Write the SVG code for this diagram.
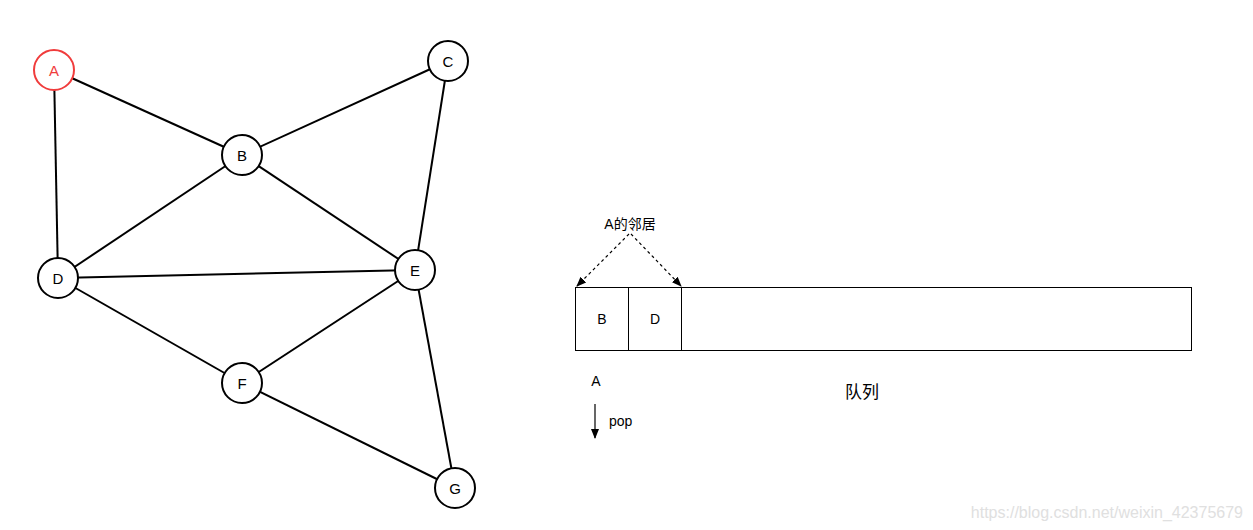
<svg xmlns="http://www.w3.org/2000/svg" width="1253" height="530" viewBox="0 0 1253 530">
<style>
.edge{stroke:#000;stroke-width:2;fill:none}
.node circle{fill:#fff;stroke:#000;stroke-width:2}
.node text{font-family:"Liberation Sans",Arial,sans-serif;font-size:15px;text-anchor:middle;dominant-baseline:central;fill:#000}
.lbl{font-family:"Liberation Sans","Noto Sans CJK SC",sans-serif;font-size:14px;fill:#000}
.cell{fill:#fff;stroke:#000;stroke-width:1}
</style>
<defs>
<marker id="ah" viewBox="0 0 10 10" refX="9" refY="5" markerWidth="10" markerHeight="10" orient="auto" markerUnits="userSpaceOnUse">
<path d="M0,1 L10,5 L0,9 Z" fill="#000"/>
</marker>
</defs>
<rect width="1253" height="530" fill="#fff"/>
<g id="connectors">
<line class="edge" x1="54" y1="70" x2="242" y2="155"/>
<line class="edge" x1="54" y1="70" x2="58" y2="278"/>
<line class="edge" x1="242" y1="155" x2="448" y2="61"/>
<line class="edge" x1="242" y1="155" x2="58" y2="278"/>
<line class="edge" x1="242" y1="155" x2="415" y2="270"/>
<line class="edge" x1="448" y1="61" x2="415" y2="270"/>
<line class="edge" x1="58" y1="278" x2="415" y2="270"/>
<line class="edge" x1="58" y1="278" x2="242" y2="383"/>
<line class="edge" x1="242" y1="383" x2="415" y2="270"/>
<line class="edge" x1="242" y1="383" x2="455" y2="488"/>
<line class="edge" x1="415" y1="270" x2="455" y2="488"/>
<path d="M629,234 L577,286" stroke="#000" stroke-width="1.2" stroke-dasharray="3,3" fill="none" marker-end="url(#ah)"/>
<path d="M631,234 L681,286" stroke="#000" stroke-width="1.2" stroke-dasharray="3,3" fill="none" marker-end="url(#ah)"/>
<line x1="595" y1="404" x2="595" y2="438" stroke="#000" stroke-width="1.2" marker-end="url(#ah)"/>
</g>
<g id="node-A" class="node"><circle cx="54" cy="70" r="20" style="stroke:#f03c3c"/><text x="54" y="70" style="fill:#f03c3c">A</text></g>
<g id="node-B" class="node"><circle cx="242" cy="155" r="20"/><text x="242" y="155">B</text></g>
<g id="node-C" class="node"><circle cx="448" cy="61" r="20"/><text x="448" y="61">C</text></g>
<g id="node-D" class="node"><circle cx="58" cy="278" r="20"/><text x="58" y="278">D</text></g>
<g id="node-E" class="node"><circle cx="415" cy="270" r="20"/><text x="415" y="270">E</text></g>
<g id="node-F" class="node"><circle cx="242" cy="383" r="20"/><text x="242" y="383">F</text></g>
<g id="node-G" class="node"><circle cx="455" cy="488" r="20"/><text x="455" y="488">G</text></g>
<g id="queue">
<rect class="cell" x="575.5" y="287.5" width="616" height="63"/>
<rect class="cell" x="575.5" y="287.5" width="53" height="63"/>
<rect class="cell" x="628.5" y="287.5" width="53" height="63"/>
<text class="lbl" x="602" y="324" text-anchor="middle">B</text>
<text class="lbl" x="655" y="324" text-anchor="middle">D</text>
</g>
<text class="lbl" x="630" y="229" text-anchor="middle">A的邻居</text>
<text class="lbl" x="596" y="386" text-anchor="middle">A</text>
<text class="lbl" x="609" y="426">pop</text>
<text x="862" y="398" text-anchor="middle" style="font-family:'Noto Sans CJK SC',sans-serif;font-size:17px;fill:#000">队列</text>
<text x="1243" y="518" text-anchor="end" style="font-family:'Liberation Sans',Arial,sans-serif;font-size:16px;fill:#e0e0e0">https://blog.csdn.net/weixin_42375679</text>
</svg>
